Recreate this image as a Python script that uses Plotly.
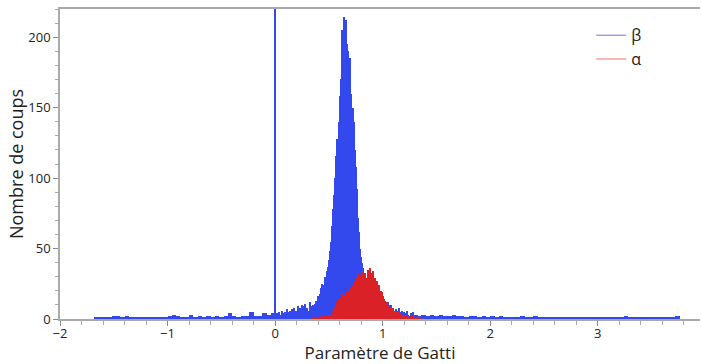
import numpy as np
import plotly.graph_objects as go

# ------------------------------- DATA -------------------------------
# left tail of beta, bins of 0.04
beta_left_x = np.round(np.arange(-1.66, -0.01, 0.04), 2)
beta_left_n = [1, 1, 1, 1, 2, 2, 1, 2, 1, 1, 1, 1, 1, 1, 1, 1, 1, 2, 3, 2, 1,
               1, 3, 1, 2, 1, 2, 1, 2, 1, 2, 4, 2, 1, 2, 2, 5, 2, 2, 4, 3, 4]

# core of beta, bins of 0.01 from 0.00 to 1.35
beta_core_x = np.round(np.arange(0.0, 1.355, 0.01), 2)
beta_core_n = [
    300, 2, 4, 3, 5, 3, 6, 4, 3, 5, 4, 7, 3, 5, 6, 4, 7, 5, 8, 6,
    5, 9, 6, 8, 7, 10, 6, 9, 11, 8,
    8, 6, 12, 7, 9, 10, 8, 11, 13, 10,
    16, 14, 18, 22, 25, 24, 30, 28, 34, 37,
    42, 48, 55, 66, 78, 88, 100, 116, 128, 140,
    158, 170, 205, 180, 214, 200, 212, 195, 190, 175,
    185, 160, 150, 140, 120, 108, 92, 72, 62, 50,
    44, 40, 36, 32, 28, 26, 24, 22, 23, 21,
    20, 19, 18, 17, 16, 15, 16, 14, 13, 14,
    13, 14, 12, 11, 10, 12, 9, 8, 10, 7,
    8, 6, 7, 5, 6, 8, 5, 4, 6, 3,
    5, 4, 3, 6, 3, 2, 4, 3, 5, 2,
    3, 2, 3, 2, 1, 2]

# right tail of beta, bins of 0.04
beta_right_x = np.round(np.arange(1.38, 3.755, 0.04), 2)
beta_right_n = [3, 2, 3, 2, 3, 2, 2, 3, 2, 2, 1, 2, 2, 1, 2, 1,
                2, 1, 2, 1, 1, 1, 1, 2, 1, 1, 2, 1, 1, 1, 1, 1, 1, 1, 1, 1,
                1, 1, 1, 1, 1,
                1, 1, 1, 1, 1, 1, 2, 1, 1, 1, 1, 1, 1, 1, 1, 1, 1, 1, 2]

# alpha, bins of 0.01 from 0.35 to 1.35
alpha_x = np.round(np.arange(0.35, 1.355, 0.01), 2)
alpha_n = [
    1, 0, 1, 0, 1, 1, 0, 1, 2, 1, 1, 2, 1, 2, 3,
    2, 2, 3, 4, 6, 5, 8, 12, 10, 14,
    13, 15, 12, 18, 15, 17, 19, 16, 20, 18,
    22, 21, 24, 23, 27, 25, 30, 33, 28, 31,
    26, 34, 22, 30, 33, 29, 35, 31, 36, 33,
    30, 34, 28, 29, 26, 27, 23, 24, 20, 19,
    16, 14, 13, 11, 12, 9, 10, 8, 7, 8,
    6, 5, 6, 4, 5, 3, 4, 3, 2, 3,
    2, 2, 1, 2, 1, 2, 1, 1, 2, 1,
    1, 0, 1, 1, 0, 1]

BLUE = "#3349EE"
RED = "#DA2127"
FONT = "Open Sans"

fig = go.Figure()

for xs, ns, w in [(beta_left_x, beta_left_n, 0.04),
                  (beta_core_x, beta_core_n, 0.01),
                  (beta_right_x, beta_right_n, 0.04)]:
    fig.add_trace(go.Bar(x=xs, y=ns, width=w, marker_color=BLUE,
                         marker_line_width=0, showlegend=False))

fig.add_trace(go.Bar(x=alpha_x, y=alpha_n, width=0.01, marker_color=RED,
                     marker_line_width=0, showlegend=False))

# legend entries as lines
fig.add_trace(go.Scatter(x=[None], y=[None], mode="lines", name="β",
                         line=dict(color="#7070F5", width=1)))
fig.add_trace(go.Scatter(x=[None], y=[None], mode="lines", name="α",
                         line=dict(color="#F07070", width=1)))

fig.update_layout(
    width=702, height=364,
    margin=dict(l=60, r=2, t=9, b=45, autoexpand=False),
    barmode="overlay", bargap=0,
    plot_bgcolor="white", paper_bgcolor="white",
    font=dict(family=FONT, size=13, color="#222"),
    legend=dict(x=0.83, y=0.97, xanchor="left", yanchor="top",
                font=dict(size=16), bgcolor="rgba(0,0,0,0)",
                itemwidth=30, tracegroupgap=0),
)

fig.update_xaxes(
    range=[-2, 3.95], tickvals=[-2, -1, 0, 1, 2, 3],
    ticks="outside", ticklen=5, tickcolor="#888", ticklabelstandoff=-3,
    minor=dict(dtick=0.2, ticks="outside", ticklen=4, tickcolor="#aaa"),
    showgrid=False, zeroline=False, automargin=False,
    showline=True, linecolor="#aaa", linewidth=1.5, mirror=True,
    title=dict(text="Paramètre de Gatti", font=dict(size=17), standoff=5),
)
fig.update_yaxes(
    range=[0, 220], tickvals=[0, 50, 100, 150, 200],
    ticks="outside", ticklen=5, tickcolor="#888",
    minor=dict(dtick=10, ticks="outside", ticklen=3, tickcolor="#aaa"),
    showgrid=False, zeroline=False, automargin=False,
    showline=True, linecolor="#aaa", linewidth=1.5,
    title=dict(text="Nombre de coups", font=dict(size=18), standoff=0),
)

# page body has a default 8px margin; drop it so the figure sits at 0,0
fig.write_html("out.html", config={"displayModeBar": False},
               post_script="document.body.style.margin='0';")
